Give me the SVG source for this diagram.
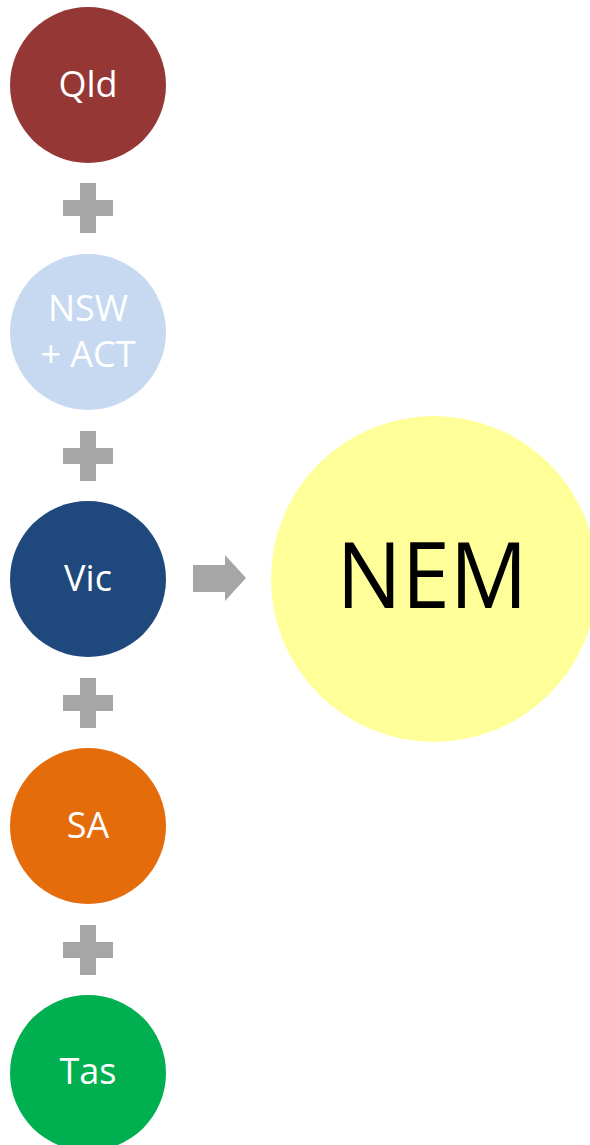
<svg xmlns="http://www.w3.org/2000/svg" width="590" height="1145" viewBox="0 0 590 1145">
<style>
.lbl{font-family:"Open Sans","Noto Sans","Liberation Sans",sans-serif;font-size:36px;fill:#ffffff;text-anchor:middle}
.nem{font-family:"Open Sans","Noto Sans","Liberation Sans",sans-serif;font-size:92px;fill:#000000;text-anchor:middle}
.gray{fill:#A6A6A6}
</style>
<defs>
<path id="plus" d="M-8,-25 H8 V-8 H25 V8 H8 V25 H-8 V8 H-25 V-8 H-8 Z"/>
</defs>
<rect width="590" height="1145" fill="#ffffff"/>
<g id="qld"><circle cx="88" cy="85" r="78" fill="#953735"/><text class="lbl" x="88" y="97">Qld</text></g>
<g id="nsw"><circle cx="88" cy="332" r="78" fill="#C6D9F1"/><text class="lbl" x="88" y="321">NSW</text><text class="lbl" x="88" y="367">+ ACT</text></g>
<g id="vic"><circle cx="88" cy="579" r="78" fill="#1F497D"/><text class="lbl" x="88" y="591">Vic</text></g>
<g id="sa"><circle cx="88" cy="826" r="78" fill="#E46C0A"/><text class="lbl" x="88" y="838">SA</text></g>
<g id="tas"><circle cx="88" cy="1073" r="78" fill="#00B050"/><text class="lbl" x="88" y="1084">Tas</text></g>
<g id="nem"><circle cx="434" cy="579" r="163" fill="#FFFF99"/><text class="nem" x="432" y="608" textLength="191" lengthAdjust="spacingAndGlyphs">NEM</text></g>
<g id="connectors">
<use href="#plus" class="gray" x="88" y="208"/>
<use href="#plus" class="gray" x="88" y="456"/>
<use href="#plus" class="gray" x="88" y="703"/>
<use href="#plus" class="gray" x="88" y="950"/>
<path class="gray" d="M193,565 H225 V555 L246,578 L225,601 V592 H193 Z"/>
</g>
</svg>
